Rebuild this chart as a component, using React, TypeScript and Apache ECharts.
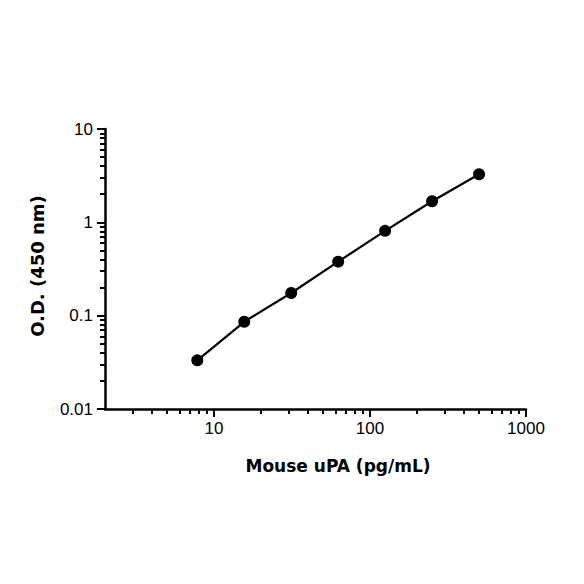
import React, { useEffect, useRef } from "react";
import * as echarts from "echarts";

// concentration of the standards (pg/mL) and measured O.D.
const concentrations = [7.8125, 15.625, 31.25, 62.5, 125, 250, 500];
const odValues = [0.0332, 0.086, 0.175, 0.379, 0.81, 1.68, 3.27];

const xLabelValues = [10, 100, 1000];
const yLabelValues = [0.01, 0.1, 1, 10];

// minor ticks: 2..9 of each decade (x axis starts at 2)
const xMinorTicks = [3, 4, 5, 6, 7, 8, 9, 20, 30, 40, 50, 60, 70, 80, 90, 200, 300, 400, 500, 600, 700, 800, 900];
const yMinorTicks = [
  0.02, 0.03, 0.04, 0.05, 0.06, 0.07, 0.08, 0.09,
  0.2, 0.3, 0.4, 0.5, 0.6, 0.7, 0.8, 0.9,
  2, 3, 4, 5, 6, 7, 8, 9,
];

const labelFont = { fontFamily: "Liberation Sans", fontSize: 17, color: "#000" };

const App = () => {
  const chartRef = useRef<HTMLDivElement>(null);

  useEffect(() => {
    const chart = echarts.init(chartRef.current, null, { renderer: "svg" });

    const axisLine = { show: true, lineStyle: { color: "#000", width: 2.5 } };
    const tickStyle = { color: "#000", width: 2 };

    chart.setOption({
      animation: false,
      backgroundColor: "#fff",
      grid: { left: 105, right: 58, top: 129, bottom: 175 },
      xAxis: [
        {
          type: "log",
          logBase: 10,
          min: 2,
          max: 1000,
          axisLine,
          axisTick: { show: true, length: 8, lineStyle: tickStyle, customValues: xLabelValues },
          axisLabel: {
            ...labelFont,
            margin: 11,
            customValues: xLabelValues,
            formatter: (v: number) => String(Math.round(v)),
          },
          splitLine: { show: false },
        },
        {
          type: "log",
          logBase: 10,
          min: 2,
          max: 1000,
          position: "bottom",
          axisLine: { show: false },
          axisTick: { show: true, length: 5, lineStyle: tickStyle, customValues: xMinorTicks },
          axisLabel: { show: false },
          splitLine: { show: false },
        },
      ],
      yAxis: [
        {
          type: "log",
          logBase: 10,
          min: 0.01,
          max: 10,
          axisLine,
          axisTick: { show: true, length: 8, lineStyle: tickStyle, customValues: yLabelValues },
          axisLabel: {
            ...labelFont,
            margin: 12,
            customValues: yLabelValues,
            formatter: (v: number) => String(v),
          },
          splitLine: { show: false },
        },
        {
          type: "log",
          logBase: 10,
          min: 0.01,
          max: 10,
          position: "left",
          axisLine: { show: false },
          axisTick: { show: true, length: 5, lineStyle: tickStyle, customValues: yMinorTicks },
          axisLabel: { show: false },
          splitLine: { show: false },
        },
      ],
      graphic: [
        {
          type: "text",
          x: 338,
          y: 466,
          style: {
            text: "Mouse uPA (pg/mL)",
            font: "bold 17px 'DejaVu Sans'",
            fill: "#000",
            align: "center",
            verticalAlign: "middle",
          },
        },
        {
          type: "text",
          x: 37,
          y: 266,
          rotation: Math.PI / 2,
          style: {
            text: "O.D. (450 nm)",
            font: "bold 18px 'DejaVu Sans'",
            fill: "#000",
            align: "center",
            verticalAlign: "middle",
          },
        },
      ],
      series: [
        {
          type: "line",
          xAxisIndex: 0,
          yAxisIndex: 0,
          data: concentrations.map((c, i) => [c, odValues[i]]),
          symbol: "circle",
          symbolSize: 12,
          itemStyle: { color: "#000" },
          lineStyle: { color: "#000", width: 2.2 },
        },
      ],
    });

    return () => chart.dispose();
  }, []);

  return (
    <div
      ref={chartRef}
      style={{ position: "fixed", left: 0, top: 0, width: "584px", height: "584px" }}
    />
  );
};

export default App;
